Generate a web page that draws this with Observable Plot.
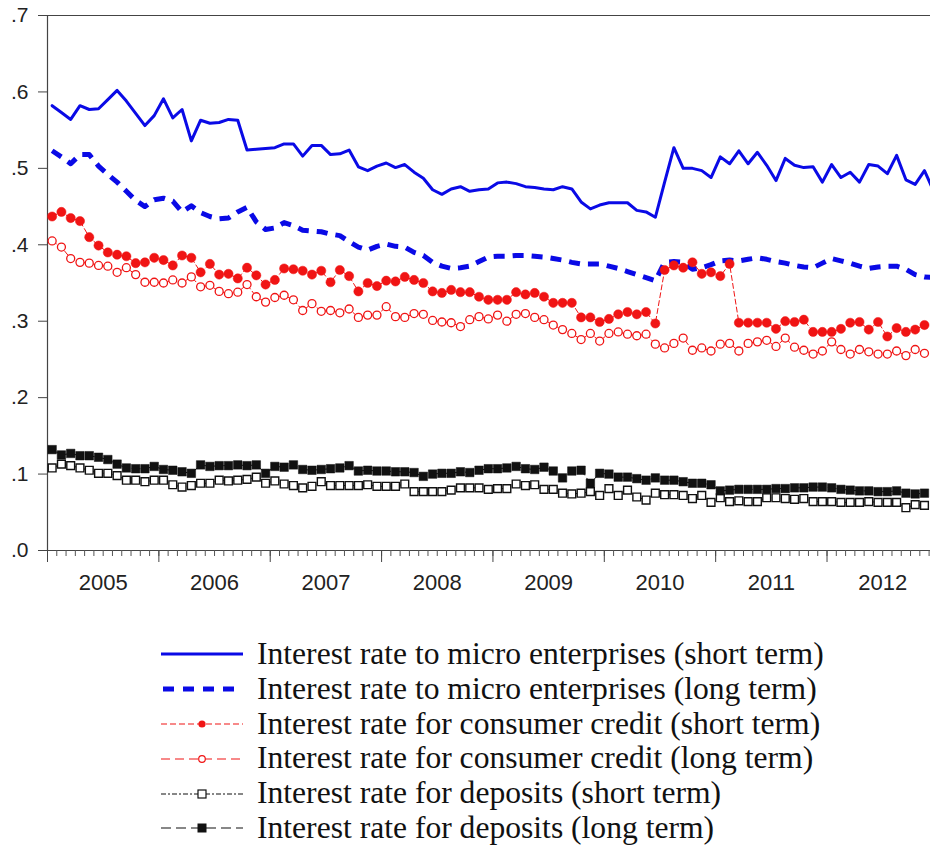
<!DOCTYPE html>
<html>
<head>
<meta charset="utf-8">
<script src="https://cdn.jsdelivr.net/npm/d3@7"></script>
<script src="https://cdn.jsdelivr.net/npm/@observablehq/plot@0.6"></script>
<style>
  html, body { margin: 0; padding: 0; background: #fff; }
  #chart { width: 930px; }
  #legend { padding-top: 27px; font-family: "Liberation Serif", "Times New Roman", serif; font-size: 31.6px; color: #111; }
  .row { display: flex; align-items: center; height: 34.8px; }
  .row svg { margin-left: 161px; margin-right: 14px; flex: none; }
  .row span { white-space: nowrap; line-height: 34.8px; }
</style>
</head>
<body>
<div id="chart"></div>
<div id="legend"></div>
<script>
// Year labels (each spans Jan..Dec of that year; month index 0 = Jan 2005)
const yearLabels = ["2005", "2006", "2007", "2008", "2009", "2010", "2011", "2012"];
const yTicks = [0, 0.1, 0.2, 0.3, 0.4, 0.5, 0.6, 0.7];

const seriesNames = [
  "Interest rate to micro enterprises (short term)",
  "Interest rate to micro enterprises (long term)",
  "Interest rate for consumer credit (short term)",
  "Interest rate for consumer credit (long term)",
  "Interest rate for deposits (short term)",
  "Interest rate for deposits (long term)"
];

// Monthly values, Jan 2005 onward
const microShort = [
  .582, .573, .564, .582, .577, .578, .590, .602, .588, .572, .556, .569,
  .591, .566, .577, .536, .563, .559, .560, .564, .563, .524, .525, .526,
  .527, .532, .532, .516, .530, .530, .518, .519, .524, .502, .497, .503,
  .507, .501, .505, .495, .487, .472, .466, .473, .476, .470, .472, .473,
  .481, .482, .480, .476, .475, .473, .472, .476, .473, .456, .447, .452,
  .455, .455, .455, .445, .443, .436, .482, .527, .500, .500, .497, .488,
  .515, .506, .523, .506, .521, .504, .484, .513, .504, .501, .502, .482,
  .505, .488, .495, .482, .505, .503, .493, .517, .485, .479, .497, .470
];
const microLong = [
  .523, .515, .506, .518, .518, .503, .492, .482, .470, .458, .450, .459,
  .461, .457, .443, .451, .442, .437, .434, .435, .443, .449, .430, .420,
  .422, .429, .425, .419, .418, .417, .414, .412, .404, .397, .393, .398,
  .401, .398, .397, .390, .386, .377, .372, .369, .370, .372, .378, .384,
  .385, .385, .386, .386, .385, .384, .382, .380, .377, .375, .375, .375,
  .372, .369, .365, .361, .357, .353, .377, .378, .377, .368, .370, .374,
  .379, .380, .379, .381, .383, .381, .378, .376, .373, .371, .370, .376,
  .382, .379, .376, .372, .369, .371, .372, .372, .368, .361, .358, .357
];
const consumerShort = [
  .437, .443, .435, .431, .410, .399, .390, .387, .385, .376, .377, .383,
  .380, .373, .386, .383, .364, .375, .361, .362, .356, .370, .360, .348,
  .354, .369, .368, .366, .361, .366, .351, .367, .359, .339, .350, .346,
  .353, .352, .358, .354, .350, .339, .337, .341, .338, .338, .332, .328,
  .328, .328, .338, .335, .337, .332, .324, .324, .324, .305, .305, .299,
  .303, .309, .312, .309, .312, .297, .367, .373, .370, .377, .362, .364,
  .359, .375, .298, .298, .298, .298, .290, .300, .299, .302, .286, .286,
  .286, .290, .298, .299, .289, .299, .280, .291, .286, .289, .295
];
const consumerLong = [
  .405, .397, .382, .377, .376, .373, .372, .364, .370, .361, .351, .351,
  .350, .354, .350, .358, .345, .347, .339, .336, .338, .348, .332, .325,
  .331, .334, .328, .314, .323, .313, .314, .311, .316, .305, .308, .308,
  .319, .306, .305, .310, .309, .301, .299, .298, .293, .302, .306, .303,
  .308, .300, .309, .310, .305, .302, .295, .289, .284, .276, .284, .274,
  .284, .286, .283, .281, .283, .270, .265, .271, .278, .262, .265, .261,
  .270, .271, .261, .271, .273, .275, .267, .278, .266, .262, .257, .261,
  .273, .263, .257, .263, .260, .257, .257, .261, .255, .263, .258
];
const depositShort = [
  .108, .113, .111, .108, .105, .101, .101, .098, .092, .092, .090, .092,
  .092, .086, .083, .085, .088, .088, .092, .091, .092, .093, .096, .088,
  .091, .087, .085, .082, .084, .090, .085, .085, .085, .085, .086, .084,
  .084, .084, .087, .077, .077, .077, .077, .079, .082, .082, .082, .080,
  .081, .081, .087, .085, .086, .080, .080, .075, .074, .075, .077, .072,
  .081, .072, .079, .070, .066, .075, .073, .073, .072, .068, .072, .063,
  .069, .064, .065, .064, .064, .069, .069, .068, .067, .068, .064, .064,
  .064, .063, .063, .063, .064, .063, .063, .063, .056, .060, .059
];
const depositLong = [
  .132, .125, .127, .124, .124, .122, .119, .113, .108, .107, .107, .110,
  .106, .105, .103, .101, .112, .110, .111, .111, .112, .111, .112, .101,
  .110, .109, .112, .106, .105, .106, .107, .108, .111, .104, .105, .104,
  .104, .103, .103, .102, .097, .100, .101, .101, .103, .102, .105, .107,
  .107, .108, .110, .107, .106, .109, .104, .095, .104, .105, .088, .101,
  .100, .096, .096, .094, .092, .095, .092, .092, .090, .088, .088, .086,
  .078, .079, .080, .080, .080, .080, .081, .081, .082, .082, .083, .083,
  .082, .080, .079, .078, .078, .077, .077, .078, .075, .074, .075
];

const blue = "#0a0ae6";
const red = "#f01414";
const black = "#111";

const rows = arr => arr.map((v, i) => ({i, v}));
const monthTicks = d3.range(0, 97).map(m => m - 0.5);
const yearTicks = d3.range(0, 9).map(k => 12 * k - 0.5);
const yearMids = yearLabels.map((_, k) => 12 * k + 5.5);

const yFmt = d => "." + Math.round(d * 10);

const chart = Plot.plot({
  width: 930,
  height: 610,
  marginTop: 15,
  marginBottom: 60,
  marginLeft: 47,
  marginRight: 0,
  style: {fontFamily: "'Liberation Sans', Arial, sans-serif", background: "#fff"},
  x: {type: "linear", domain: [-0.5, 95.5], range: [47, 47 + 96 * 9.28], axis: null, label: null},
  y: {domain: [0, 0.7], axis: null, label: null},
  marks: [
    Plot.ruleY([0.7], {stroke: "#444", strokeWidth: 1.2}),
    Plot.ruleY([0], {stroke: "#444", strokeWidth: 1.2}),
    Plot.ruleX([-0.5], {stroke: "#444", strokeWidth: 1.2}),
    Plot.axisY(yTicks, {label: null, tickSize: 9, tickPadding: 10, tickFormat: yFmt, fontSize: 21, color: "#222", stroke: "#444"}),
    Plot.axisX(monthTicks, {label: null, tickSize: 6, tickFormat: () => "", stroke: "#555"}),
    Plot.axisX(yearTicks, {label: null, tickSize: 12, tickFormat: () => "", stroke: "#444"}),
    Plot.axisX(yearMids, {label: null, tickSize: 0, tickPadding: 24, fontSize: 22, color: "#222",
      tickFormat: d => yearLabels[Math.round((d - 5.5) / 12)]}),
    // micro enterprises short term
    Plot.line(rows(microShort), {x: "i", y: "v", stroke: blue, strokeWidth: 3}),
    // micro enterprises long term
    Plot.line(rows(microLong), {x: "i", y: "v", stroke: blue, strokeWidth: 5, strokeDasharray: "11,8", strokeLinecap: "butt"}),
    // consumer credit short term
    Plot.line(rows(consumerShort), {x: "i", y: "v", stroke: red, strokeWidth: 1, strokeDasharray: "5,3"}),
    Plot.dot(rows(consumerShort), {x: "i", y: "v", r: 4.6, fill: red, stroke: red, strokeWidth: 0.5}),
    // consumer credit long term
    Plot.line(rows(consumerLong), {x: "i", y: "v", stroke: red, strokeWidth: 1, strokeDasharray: "5,3"}),
    Plot.dot(rows(consumerLong), {x: "i", y: "v", r: 4, fill: "white", stroke: red, strokeWidth: 1.3}),
    // deposits short term
    Plot.line(rows(depositShort), {x: "i", y: "v", stroke: black, strokeWidth: 1, strokeDasharray: "6,3,2,3"}),
    Plot.dot(rows(depositShort), {x: "i", y: "v", symbol: "square", r: 4.4, fill: "white", stroke: black, strokeWidth: 1.4}),
    // deposits long term
    Plot.line(rows(depositLong), {x: "i", y: "v", stroke: black, strokeWidth: 1, strokeDasharray: "8,4"}),
    Plot.dot(rows(depositLong), {x: "i", y: "v", symbol: "square", r: 4.8, fill: black, stroke: black, strokeWidth: 0.5})
  ]
});
document.getElementById("chart").appendChild(chart);

// Legend
const swatches = [
  `<line x1="0" y1="10" x2="82" y2="10" stroke="${blue}" stroke-width="3"/>`,
  `<line x1="2" y1="10" x2="82" y2="10" stroke="${blue}" stroke-width="5" stroke-dasharray="11,9"/>`,
  `<line x1="0" y1="10" x2="82" y2="10" stroke="${red}" stroke-width="1.2" stroke-dasharray="6,3"/><circle cx="41" cy="10" r="3.6" fill="${red}"/>`,
  `<line x1="0" y1="10" x2="82" y2="10" stroke="${red}" stroke-width="1.2" stroke-dasharray="9,5"/><circle cx="41" cy="10" r="3.3" fill="white" stroke="${red}" stroke-width="1.2"/>`,
  `<line x1="0" y1="10" x2="82" y2="10" stroke="${black}" stroke-width="1.2" stroke-dasharray="5,2,2,2"/><rect x="37" y="6" width="8" height="8" fill="white" stroke="${black}" stroke-width="1.2"/>`,
  `<line x1="0" y1="10" x2="82" y2="10" stroke="${black}" stroke-width="1.2" stroke-dasharray="10,5"/><rect x="36.5" y="5.5" width="9" height="9" fill="${black}"/>`
];
const legend = document.getElementById("legend");
seriesNames.forEach((name, k) => {
  const row = document.createElement("div");
  row.className = "row";
  row.innerHTML = `<svg width="82" height="20">${swatches[k]}</svg><span>${name}</span>`;
  legend.appendChild(row);
});
</script>
</body>
</html>
